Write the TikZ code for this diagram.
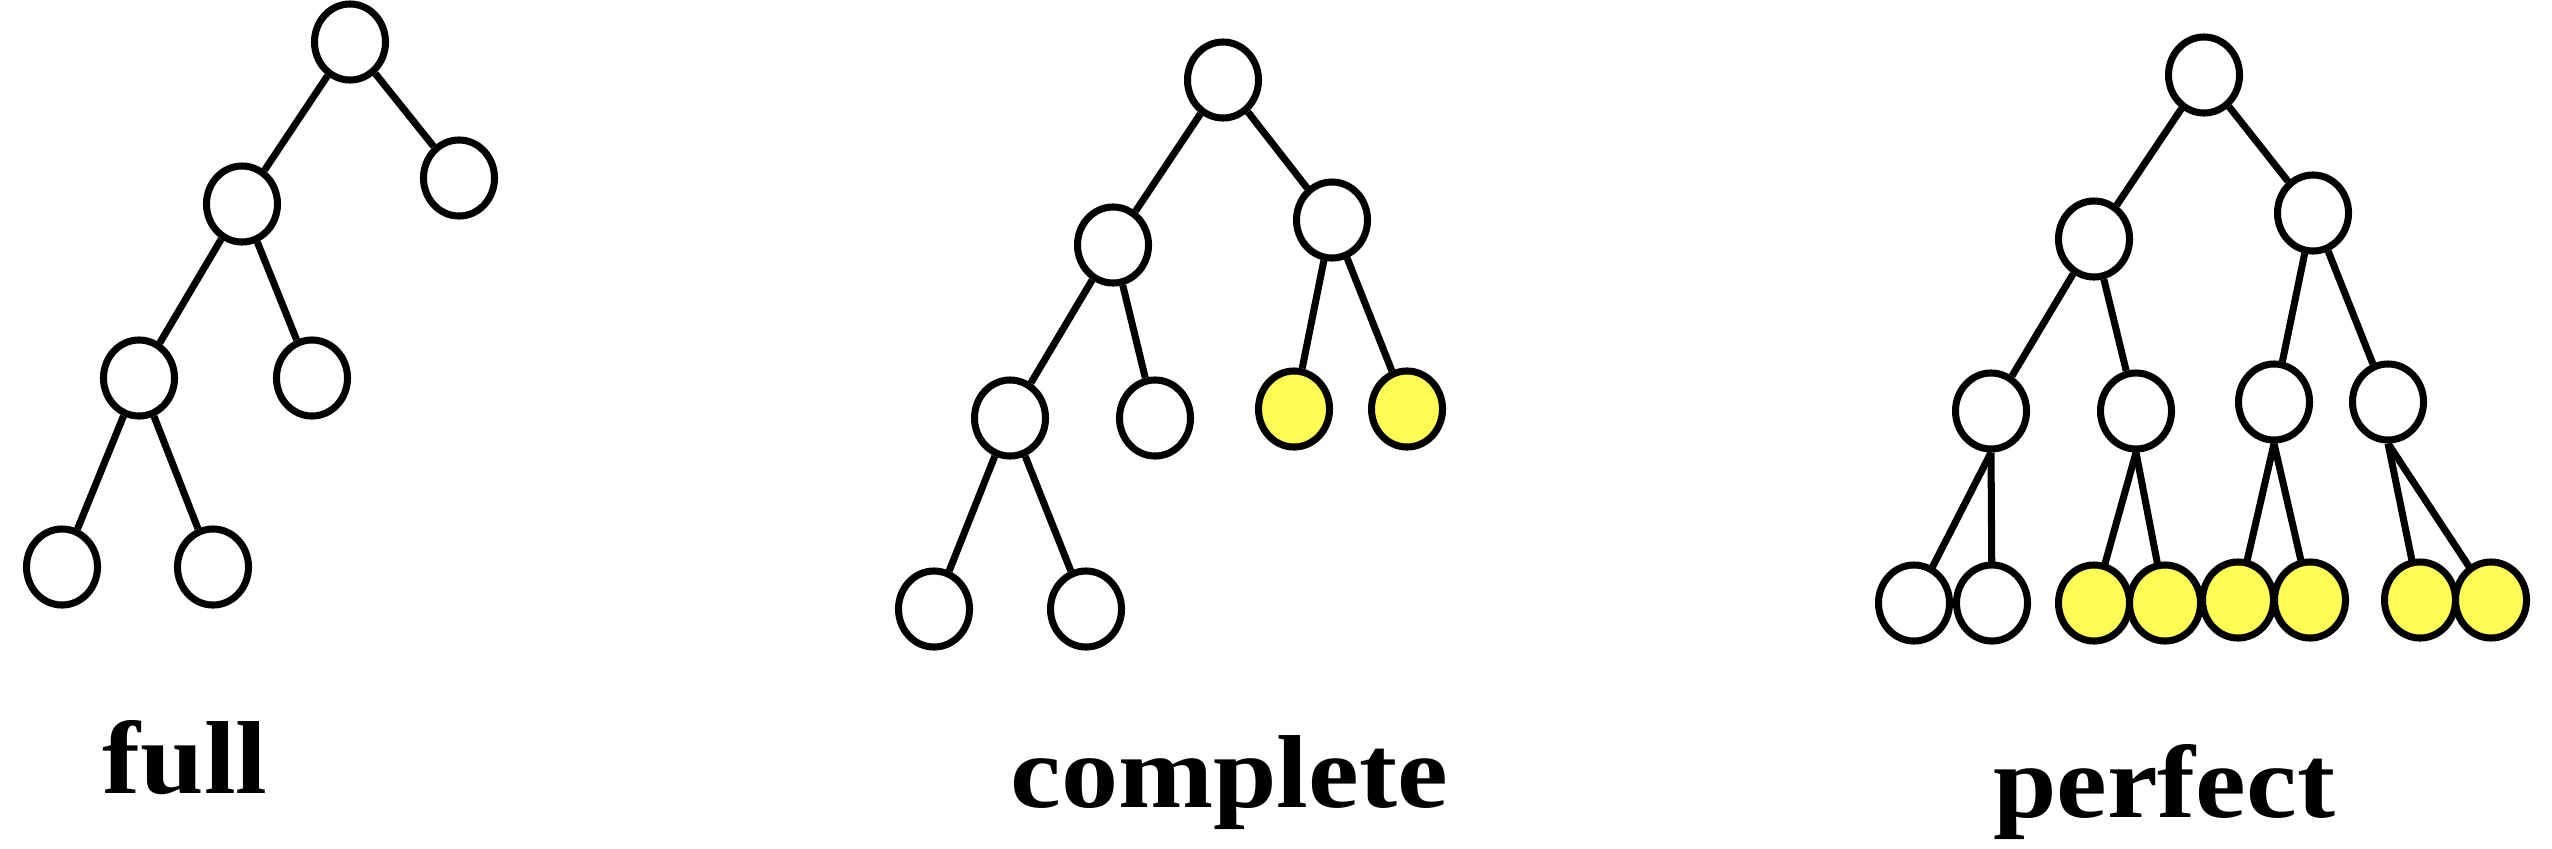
\documentclass[tikz,border=0pt]{standalone}
\usepackage{fontspec}
\setmainfont{Liberation Serif}
\newfontfamily\lblfont{Liberation Serif}[FakeStretch=1.1]
\usepackage{xcolor}
\usepackage{tikz}
\usetikzlibrary{shapes,shapes.geometric}
\definecolor{leafyellow}{RGB}{255,252,84}
\tikzset{>=stealth}

\begin{document}
\begin{tikzpicture}[x=0.01cm,y=-0.01cm,line width=2pt,
    vtx/.style={draw,ellipse,inner sep=0pt,minimum width=0.71cm,minimum height=0.76cm,fill=white},
    hot/.style={vtx,fill=leafyellow},
    lbl/.style={anchor=base,font=\lblfont\fontsize{29.5}{31}\selectfont\bfseries}]
      \useasboundingbox (0,0) rectangle (2552,848);
      % full
      \node[vtx] (fr) at (350,42) {};
      \node[vtx] (fa) at (242,204) {};
      \node[vtx] (fb) at (459,178) {};
      \node[vtx] (fc) at (139,378) {};
      \node[vtx] (fd) at (312,378) {};
      \node[vtx] (fe) at (62,567) {};
      \node[vtx] (fg) at (213,567) {};
      \draw (fr) -- (fa);
      \draw (fr) -- (fb);
      \draw (fa) -- (fc);
      \draw (fa) -- (fd);
      \draw (fc) -- (fe);
      \draw (fc) -- (fg);
      \node[lbl] (tfull) at (185,793) {full};
      % complete
      \node[vtx] (cr) at (1223,80) {};
      \node[vtx] (ca) at (1113,245) {};
      \node[vtx] (cb) at (1332,220) {};
      \node[vtx] (cc) at (1010,418) {};
      \node[vtx] (cd) at (1155,418) {};
      \node[hot] (ce) at (1294,409) {};
      \node[hot] (cf) at (1407,409) {};
      \node[vtx] (cg) at (934,609) {};
      \node[vtx] (ch) at (1086,609) {};
      \draw (cr) -- (ca);
      \draw (cr) -- (cb);
      \draw (ca) -- (cc);
      \draw (ca) -- (cd);
      \draw (cb) -- (ce);
      \draw (cb) -- (cf);
      \draw (cc) -- (cg);
      \draw (cc) -- (ch);
      \node[lbl] (tcomplete) at (1229,807) {complete};
      % perfect
      \node[vtx] (pr) at (2204,75) {};
      \node[vtx] (pa) at (2094,239) {};
      \node[vtx] (pb) at (2313,213) {};
      \node[vtx] (pc) at (1991,411) {};
      \node[vtx] (pd) at (2136,411) {};
      \node[vtx] (pe) at (2274,402) {};
      \node[vtx] (pf) at (2388,402) {};
      \draw (pr) -- (pa);
      \draw (pr) -- (pb);
      \draw (pa) -- (pc);
      \draw (pa) -- (pd);
      \draw (pb) -- (pe);
      \draw (pb) -- (pf);
      \coordinate (q1) at (1914,603);
      \coordinate (q2) at (1992,603);
      \coordinate (q3) at (2094,603);
      \coordinate (q4) at (2165,603);
      \coordinate (q5) at (2238,600);
      \coordinate (q6) at (2310,600);
      \coordinate (q7) at (2420,600);
      \coordinate (q8) at (2491,600);
      \draw (pc.south) -- (q1);
      \draw (pc.south) -- (q2);
      \draw (pd.south) -- (q3);
      \draw (pd.south) -- (q4);
      \draw (pe.south) -- (q5);
      \draw (pe.south) -- (q6);
      \draw (pf.south) -- (q7);
      \draw (pf.south) -- (q8);
      \node[vtx] (p1) at (q1) {};
      \node[vtx] (p2) at (q2) {};
      \node[hot] (p3) at (q3) {};
      \node[hot] (p4) at (q4) {};
      \node[hot] (p5) at (q5) {};
      \node[hot] (p6) at (q6) {};
      \node[hot] (p7) at (q7) {};
      \node[hot] (p8) at (q8) {};
      \node[lbl] (tperfect) at (2164,817) {perfect};
\end{tikzpicture}
\end{document}
